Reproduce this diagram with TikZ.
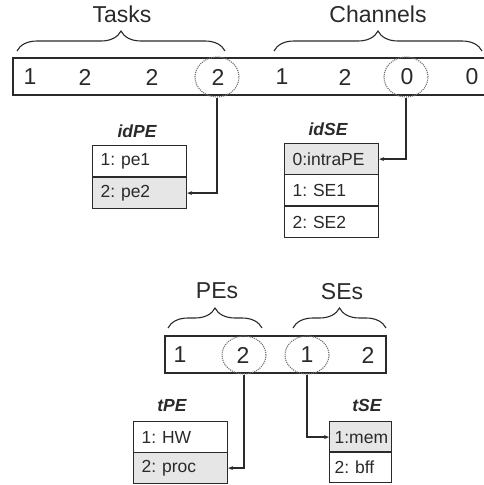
\documentclass[tikz,border=0pt]{standalone}
\usepackage{fontspec}
\setmainfont{Liberation Sans}
\usetikzlibrary{decorations.pathreplacing,arrows.meta,shapes.geometric}

\definecolor{ink}{HTML}{2A2A2A}
\definecolor{cellgray}{HTML}{E6E6E6}
\definecolor{dotgray}{HTML}{6E6E6E}

\tikzset{
  barline/.style={draw=ink, line width=1.4pt},
  digit/.style={font=\fontsize{23}{25}\selectfont, text=ink, inner sep=0pt},
  grouplabel/.style={font=\fontsize{23}{26}\selectfont, text=ink, inner sep=0pt},
  groupbrace/.style={draw=ink, line width=1.1pt, decorate,
    decoration={brace, amplitude=20pt, aspect=0.5}},
  pick/.style={ellipse, draw=dotgray, densely dotted, line width=1.1pt,
    minimum width=44pt, minimum height=40pt, inner sep=0pt},
  tabletitle/.style={font=\fontsize{17.5}{19}\selectfont\bfseries\itshape, text=ink, inner sep=0pt},
  cell/.style={draw=ink, line width=1.2pt, anchor=north west, inner ysep=5pt,
    inner xsep=8pt, text width=78pt, minimum height=31pt, align=left,
    font=\fontsize{17.5}{19}\selectfont, text=ink},
  narrowcell/.style={cell, inner xsep=5pt, text width=52pt},
  hit/.style={fill=cellgray},
  link/.style={draw=ink, line width=1.3pt, -{Stealth[length=5pt,width=4pt]}}
}

\begin{document}
\frenchspacing
\begin{tikzpicture}[x=1pt,y=-1pt]
\useasboundingbox (0,0) rectangle (484,485);

% ---------- upper string: tasks and channels ----------
\draw[barline] (484.5,58) -- (13,58) -- (13,95) -- (484.5,95);
\node[digit] (t1) at (30,77) {1};
\node[digit] (t2) at (85,77) {2};
\node[digit] (t3) at (152,77) {2};
\node[digit] (t4) at (218,77) {2};
\node[digit] (c1) at (282,77) {1};
\node[digit] (c2) at (345,77) {2};
\node[digit] (c3) at (407,77) {0};
\node[digit] (c4) at (472,77) {0};

\node[pick] (selT) at (217,77) {};
\node[pick] (selC) at (406,77) {};

\draw[groupbrace] (17,51) -- (225,51);
\draw[groupbrace] (274,51) -- (482,51);
\node[grouplabel] (tasks) at (122,14) {Tasks};
\node[grouplabel] (chan) at (378,14) {Channels};

% ---------- lookup tables idPE / idSE ----------
\node[tabletitle] (idPE) at (137,131) {idPE};
\node[cell] (pe1) at (92,145) {1: pe1};
\node[cell,hit] (pe2) at (92,177) {2: pe2};

\node[tabletitle] (idSE) at (328,129) {idSE};
\node[cell,hit] (se0) at (284,143) {0:intraPE};
\node[cell] (se1) at (284,174) {1: SE1};
\node[cell] (se2) at (284,206) {2: SE2};

\draw[link] (selT.south) |- (pe2.east);
\draw[link] (selC.south) |- (se0.east);

% ---------- lower string: PEs and SEs ----------
\draw[barline] (165,336) rectangle (386,373);
\node[digit] (p1) at (180,355) {1};
\node[digit] (p2) at (243,355) {2};
\node[digit] (s1) at (307,355) {1};
\node[digit] (s2) at (368,355) {2};

\node[pick, minimum height=38pt] (selP) at (244,355) {};
\node[pick, minimum height=38pt] (selS) at (307,355) {};

\draw[groupbrace] (168,328) -- (262,328);
\draw[groupbrace] (293,328) -- (386,328);
\node[grouplabel] (pes) at (217,291) {PEs};
\node[grouplabel] (ses) at (342,292) {SEs};

% ---------- lookup tables tPE / tSE ----------
\node[tabletitle] (tPE) at (172,406) {tPE};
\node[cell] (hw) at (133,421) {1: HW};
\node[cell,hit] (proc) at (133,452) {2: proc};

\node[tabletitle] (tSE) at (367,405) {tSE};
\node[narrowcell,hit] (mem) at (329,421) {1:mem};
\node[narrowcell] (bff) at (329,451) {2: bff};

\draw[link] (selP.south) |- (proc.east);
\draw[link] (selS.south) |- (mem.west);
\end{tikzpicture}
\end{document}
